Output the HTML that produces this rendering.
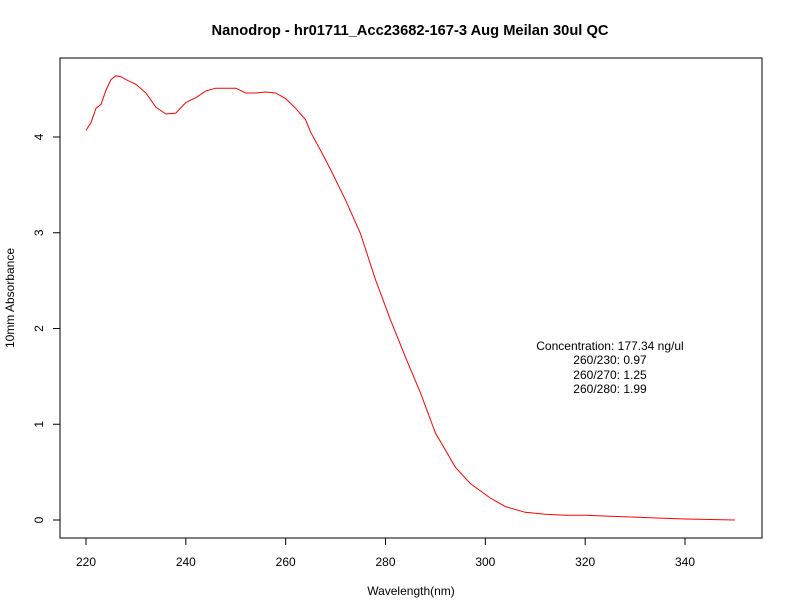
<!DOCTYPE html>
<html><head><meta charset="utf-8"><style>
html,body{margin:0;padding:0;background:#fff;}
svg{display:block;font-family:"Liberation Sans",Arial,sans-serif;}
</style></head><body>
<svg id="chart" width="792" height="612" viewBox="0 0 792 612">
<text x="410" y="35" text-anchor="middle" font-size="14.7" font-weight="bold">Nanodrop - hr01711_Acc23682-167-3 Aug Meilan 30ul QC</text>
<rect x="60" y="58" width="702" height="480" fill="none" stroke="#000" stroke-width="1"/>
<g id="xaxis"></g>
<g id="yaxis"></g>
<text x="411" y="595" text-anchor="middle" font-size="12">Wavelength(nm)</text>
<text transform="translate(14,298) rotate(-90)" text-anchor="middle" font-size="12">10mm Absorbance</text>
<path id="curve" fill="none" stroke="#ff0000" stroke-width="1"/>
<g font-size="12" text-anchor="middle">
<text x="610" y="350">Concentration: 177.34 ng/ul</text>
<text x="610" y="364">260/230: 0.97</text>
<text x="610" y="379">260/270: 1.25</text>
<text x="610" y="393">260/280: 1.99</text>
</g>
</svg>
<script>
const wavelengths=[220,221,222,223,224,225,226,227,228,230,232,234,236,238,240,242,244,246,248,250,252,254,256,258,260,262,264,265,267,269,272,275,278,281,284,287,290,294,297,301,304,308,312,316,320,325,330,335,340,345,350];
const absorbance=[4.07,4.15,4.30,4.34,4.49,4.60,4.64,4.63,4.60,4.55,4.46,4.31,4.24,4.25,4.36,4.41,4.48,4.51,4.51,4.51,4.46,4.46,4.47,4.46,4.40,4.30,4.18,4.05,3.86,3.66,3.34,2.99,2.51,2.09,1.70,1.33,0.91,0.55,0.38,0.23,0.14,0.08,0.06,0.05,0.05,0.04,0.03,0.02,0.01,0.005,0.0];
const xTicks=[220,240,260,280,300,320,340];
const yTicks=[0,1,2,3,4];
const NS="http://www.w3.org/2000/svg";
function sx(v){return 86+(v-220)*(599/120);}
function sy(v){return 520-v*95.75;}
const xa=document.getElementById('xaxis'),ya=document.getElementById('yaxis');
function mk(tag,attrs,parent){const e=document.createElementNS(NS,tag);for(const k in attrs)e.setAttribute(k,attrs[k]);parent.appendChild(e);return e;}
mk('line',{x1:sx(220),x2:sx(340),y1:538,y2:538,stroke:'#000'},xa);
xTicks.forEach(t=>{
 const l=mk('line',{x1:sx(t),x2:sx(t),y1:538,y2:545,stroke:'#000'},xa);
 
 
 const tx=mk('text',{x:sx(t),y:566,'text-anchor':'middle','font-size':12},xa);
 tx.textContent=t;
 
 
});
mk('line',{x1:60,x2:60,y1:sy(0),y2:sy(4),stroke:'#000'},ya);
yTicks.forEach(t=>{
 const l=mk('line',{x1:53,x2:60,y1:sy(t),y2:sy(t),stroke:'#000'},ya);
 
 
 const tx=mk('text',{transform:`translate(43,${sy(t)}) rotate(-90)`,'text-anchor':'middle','font-size':12},ya);
 tx.textContent=t;
 
 
});
document.getElementById('curve').setAttribute('d',wavelengths.map((w,i)=>(i?'L':'M')+sx(w).toFixed(1)+','+sy(absorbance[i]).toFixed(1)).join(' '));
</script>
</body></html>
